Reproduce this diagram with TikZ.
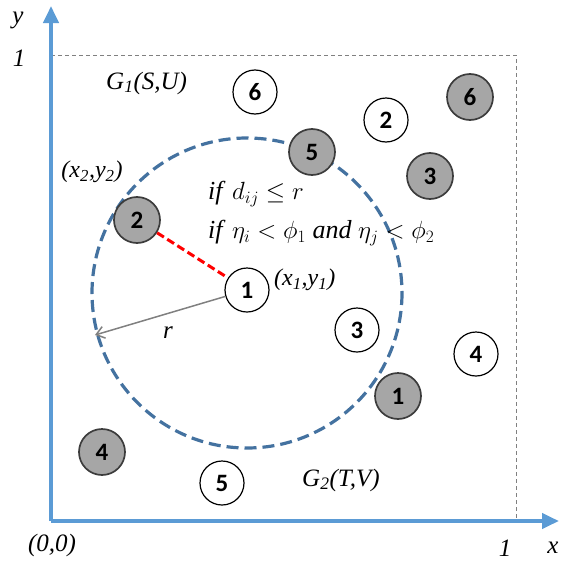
\documentclass[tikz,border=0pt]{standalone}
\usepackage{fontspec}
\setmainfont{Liberation Serif}
\newfontfamily\numfont{Carlito}
\usetikzlibrary{arrows.meta}
\definecolor{axisblue}{RGB}{91,155,213}
\definecolor{circblue}{RGB}{68,114,160}
\definecolor{nodegray}{RGB}{166,166,166}
\definecolor{edgegray}{RGB}{60,60,60}
\tikzset{
  axis/.style={draw=axisblue, line width=4pt, -{Triangle[length=17pt,width=15pt]}},
  frame/.style={draw=gray, line width=0.9pt, dash pattern=on 4pt off 3pt},
  wnode/.style={circle, draw=black, line width=1.2pt, fill=white, minimum size=44pt, inner sep=0pt, font=\numfont\bfseries\fontsize{25}{25}\selectfont},
  gnode/.style={circle, draw=edgegray, line width=1.7pt, fill=nodegray, minimum size=46pt, inner sep=0pt, font=\numfont\bfseries\fontsize{25}{25}\selectfont},
  lbl/.style={font=\itshape\fontsize{25}{25}\selectfont, inner sep=0pt},
  cond/.style={font=\fontsize{26}{28}\selectfont, inner sep=0pt, anchor=west}
}
\begin{document}
\begin{tikzpicture}[x=1pt, y=-1pt]
\path[use as bounding box] (0,0) rectangle (560,565);
% axes and frame
\coordinate (O) at (51,521);
\coordinate (ytip) at (51,6);
\coordinate (xtip) at (559,521);
\coordinate (TL) at (51,55);
\coordinate (TR) at (516,55);
\coordinate (BR) at (516,521);
\draw[frame] (TL) -- (TR) -- (BR);
\draw[axis] (O) -- (ytip);
\draw[axis] (O) -- (xtip);
% range circle
\coordinate (C) at (247,293);
\draw[draw=circblue, line width=3.2pt, dash pattern=on 12pt off 6pt] (C) circle[radius=155];
\coordinate (rend) at (95,335);
% nodes
\node[wnode] (w1) at (247,290) {1};
\node[wnode] (w2) at (386,120) {2};
\node[wnode] (w3) at (357,330) {3};
\node[wnode] (w4) at (476,354) {4};
\node[wnode] (w5) at (222,483) {5};
\node[wnode] (w6) at (255,92) {6};
\node[gnode] (g1) at (398,396) {1};
\node[gnode] (g2) at (137,220) {2};
\node[gnode] (g3) at (430,176) {3};
\node[gnode] (g4) at (102,452) {4};
\node[gnode] (g5) at (312,152) {5};
\node[gnode] (g6) at (470,97) {6};
% connectors
\draw[red, line width=3pt, dash pattern=on 8pt off 4pt] (g2) -- (w1);
\draw[gray, line width=1.5pt, -{Straight Barb[length=8pt,width=12pt]}] (w1) -- (rend);
% labels
\node[lbl] (ly) at (18,20) {y};
\node[lbl] (l1y) at (19,58) {1};
\node[lbl] (l00) at (52,545) {(0,0)};
\node[lbl] (l1x) at (505,548) {1};
\node[lbl] (lx) at (553,548) {x};
\node[lbl] (lr) at (168,333) {r};
\node[lbl, anchor=west] (G1) at (106,83) {G\textsubscript{1}(S,U)};
\node[lbl, anchor=west] (G2) at (302,480) {G\textsubscript{2}(T,V)};
\node[lbl, font=\itshape\fontsize{24}{24}\selectfont] (x2) at (92,172) {(x\textsubscript{2},y\textsubscript{2})};
\node[lbl, font=\itshape\fontsize{24}{24}\selectfont, anchor=west] (x1) at (274,280) {(x\textsubscript{1},y\textsubscript{1})};
\node[cond] (c1) at (208,194) {\textit{if} $d_{ij}\leq r$};
\node[cond] (c2) at (208,233) {\textit{if} $\eta_i<\phi_1$ \textit{and} $\eta_j<\phi_2$};
\end{tikzpicture}
\end{document}
